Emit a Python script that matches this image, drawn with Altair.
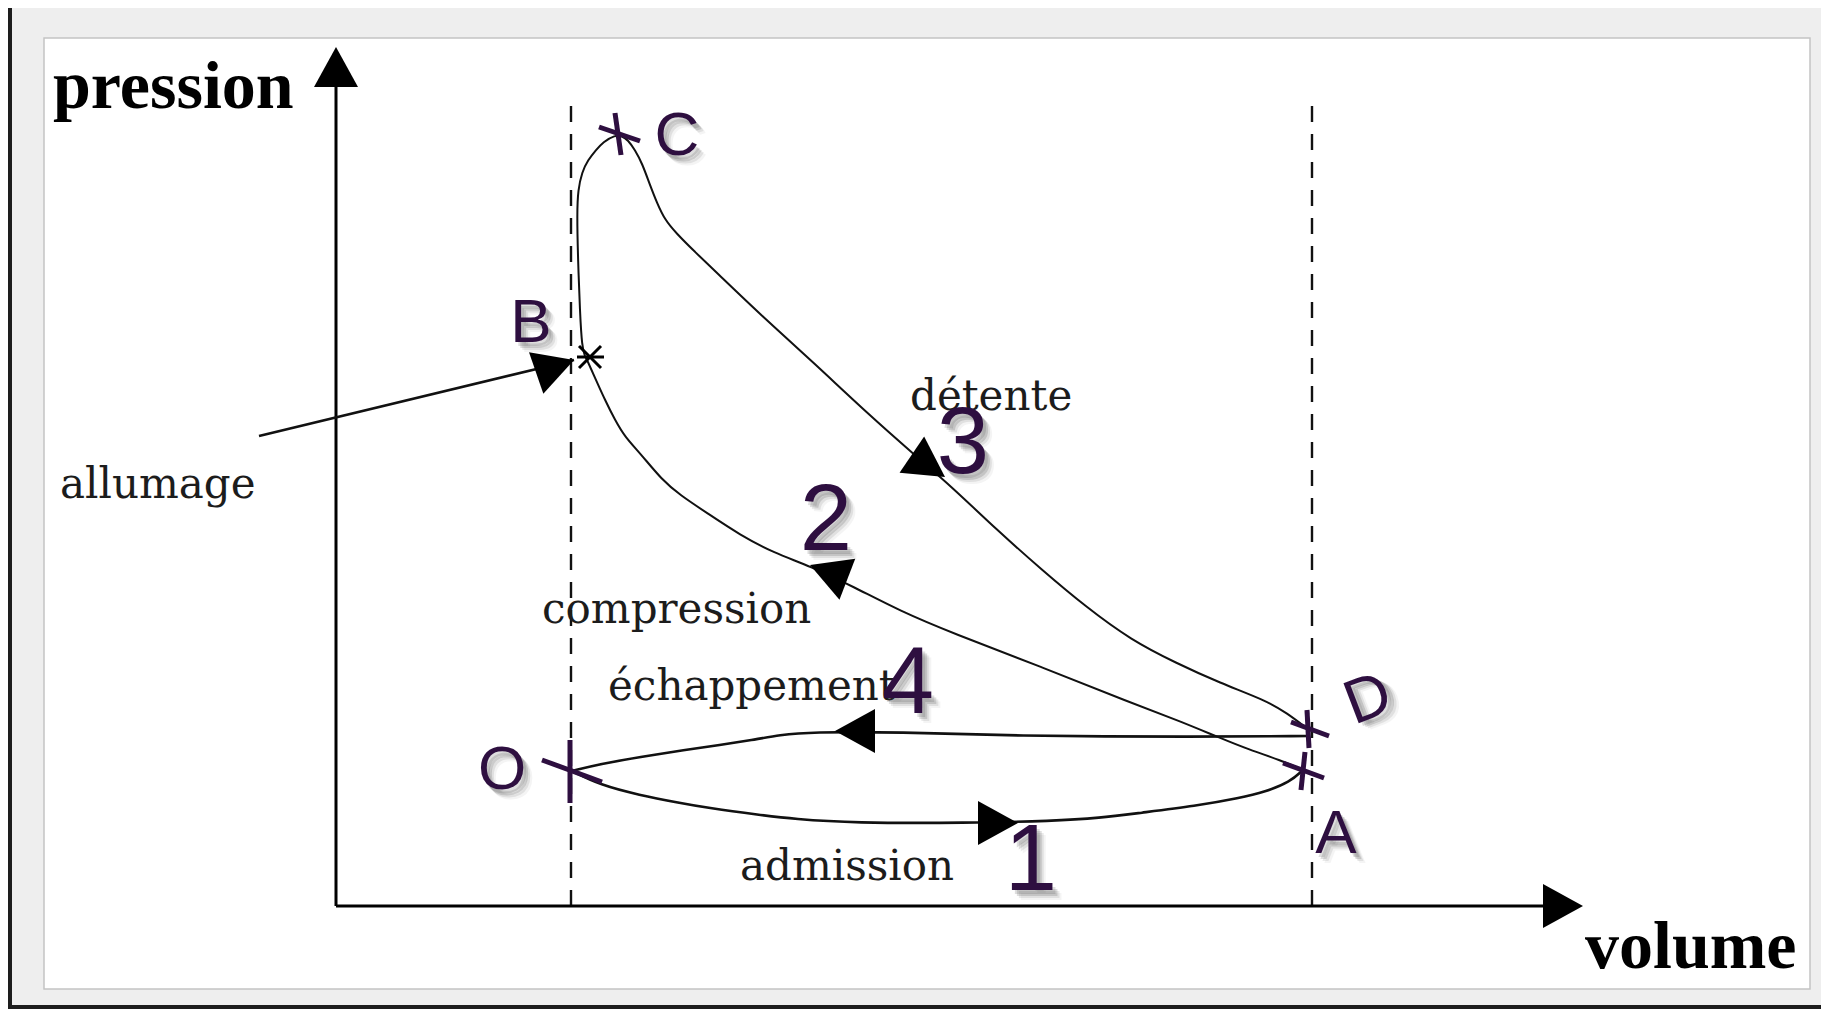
import altair as alt
import pandas as pd

# ---------------- data : (volume, pression) in diagram units, origin at the axes' corner -------------
admission_v = [236, 264, 303, 344, 372, 424, 458, 516, 631, 717, 764, 803, 860, 904, 929, 954, 967]
admission_p = [135, 121, 111, 103, 98, 91, 87, 83, 83, 85, 88, 93, 100, 108, 114, 124, 136]

compression_v = [967, 944, 914, 884, 844, 795, 706, 616, 564, 518, 474, 438, 404, 371, 344, 326, 304, 289, 279, 269, 260, 252, 249]
compression_p = [136, 146, 156, 168, 185, 203, 239, 273, 295, 319, 340, 353, 371, 393, 411, 426, 453, 469, 486, 506, 526, 544, 550]

combustion_v = [249, 246, 244, 242, 241, 242, 246, 252, 260, 267, 279]
combustion_p = [550, 559, 593, 646, 693, 716, 734, 746, 756, 764, 771]

detente_v = [286, 292, 299, 306, 314, 321, 329, 340, 359, 378, 428, 478, 531, 581, 616, 661, 706, 750, 795, 840, 884, 929, 951, 973]
detente_p = [770, 766, 756, 743, 721, 703, 686, 673, 654, 636, 588, 543, 493, 449, 419, 376, 336, 299, 266, 243, 223, 206, 193, 176]

echappement_v = [973, 864, 674, 564, 474, 444, 416, 384, 349, 304, 264, 236]
echappement_p = [170, 169, 170, 174, 174, 171, 166, 161, 156, 149, 142, 135]

allumage_v = [-77, 238]
allumage_p = [470, 546]

# volume limits (dashed) and axes
dash_v = [235, 976]
dash_top = 803
axis_v_end = 1230
axis_p_end = 845

# arrow heads : tip position and direction (deg, clockwise from +volume)
arrow_v = [0, 1247, 499, 682, 609, 474, 238]
arrow_p = [859, 0, 175, 83, 429, 341, 546]
arrow_dir = [270, 0, 180, 0, 34, 201, 341]

# purple crosses at O, A, C, D (two strokes each)
cross_v = [263, 279, 955, 971, 947, 969, 206, 234]
cross_p = [779, 793, 184, 196, 143, 154, 146, 166]
cross_v2 = [304, 285, 993, 973, 988, 965, 266, 234]
cross_p2 = [765, 751, 170, 158, 128, 116, 124, 103]

# small black star at B
star_v = [243, 265, 241]
star_p = [560, 560, 549]
star_v2 = [265, 243, 268]
star_p2 = [538, 538, 549]

point_labels = ["C", "B", "D", "O", "A"]
point_v = [341, 195, 1039, 166, 1000]
point_p = [751, 564, 189, 117, 53]
point_rot = [0, 0, 339, 0, 0]

stroke_labels = ["1", "2", "3", "4"]
stroke_v = [695, 490, 627, 572]
stroke_p = [16, 356, 433, 193]

phase_labels = ["allumage", "détente", "compression", "échappement", "admission"]
phase_v = [-276, 574, 206, 272, 404]
phase_p = [408, 496, 283, 206, 26]

title_labels = ["pression", "volume"]
title_v = [-283, 1249]
title_p = [798, -62]

# ---------------- chart ----------------
PURPLE = "#2e0f40"
INK = "#111111"
TXT = "#1c1c1c"
ARROW = "M0,0L-2,-1.1L-2,1.1Z"

W, H = 1766, 951
xs = alt.Scale(domain=[-292, 1474], nice=False, zero=False)
ys = alt.Scale(domain=[-83, 868], nice=False, zero=False)


def X(f="v"):
    return alt.X(f"{f}:Q", scale=xs, axis=None)


def Y(f="p"):
    return alt.Y(f"{f}:Q", scale=ys, axis=None)


def seg_rows(name, vs, ps):
    return [{"seg": name, "i": i, "v": v, "p": p} for i, (v, p) in enumerate(zip(vs, ps))]


thin_df = pd.DataFrame(
    seg_rows("compression", compression_v, compression_p)
    + seg_rows("BCD", combustion_v + detente_v, combustion_p + detente_p)
)
thick_df = pd.DataFrame(
    seg_rows("admission", admission_v, admission_p)
    + seg_rows("echappement", echappement_v, echappement_p)
)
allum_df = pd.DataFrame(seg_rows("allumage", allumage_v, allumage_p))

one = pd.DataFrame({"k": [0]})

frame = alt.Chart(one).mark_rect(color="#eeeeee").encode(
    x=alt.value(-32), x2=alt.value(1777), y=alt.value(-30), y2=alt.value(967)
)
panel = alt.Chart(one).mark_rect(fill="white", stroke="#c4c4c4", strokeWidth=1.5).encode(
    x=alt.value(0), x2=alt.value(W), y=alt.value(0), y2=alt.value(H)
)

dash_df = pd.DataFrame({"v": dash_v, "p0": [0, 0], "p1": [dash_top, dash_top]})
dashed = alt.Chart(dash_df).mark_rule(strokeDash=[16, 12], strokeWidth=2.4, color=INK).encode(
    x=X(), y=Y("p0"), y2=alt.Y2("p1")
)

axes_df = pd.DataFrame({"v": [0, 0], "p": [0, 0], "v2": [0, axis_v_end], "p2": [axis_p_end, 0]})
axes = alt.Chart(axes_df).mark_rule(strokeWidth=3, color="#000").encode(
    x=X(), y=Y(), x2=alt.X2("v2"), y2=alt.Y2("p2")
)

thin = alt.Chart(thin_df).mark_line(interpolate="basis", color=INK, strokeWidth=2).encode(
    x=X(), y=Y(), detail="seg:N", order="i:Q"
)
thick = alt.Chart(thick_df).mark_line(interpolate="basis", color=INK, strokeWidth=2.6).encode(
    x=X(), y=Y(), detail="seg:N", order="i:Q"
)
allum = alt.Chart(allum_df).mark_line(color=INK, strokeWidth=2.6).encode(
    x=X(), y=Y(), order="i:Q"
)

arrow_df = pd.DataFrame({"v": arrow_v, "p": arrow_p, "ang": arrow_dir})
arrows = alt.Chart(arrow_df).mark_point(
    shape=ARROW, filled=True, size=1600, color="#000", opacity=1, strokeWidth=0
).encode(x=X(), y=Y(), angle=alt.Angle("ang:Q", scale=None))

cross_df = pd.DataFrame({"v": cross_v, "p": cross_p, "v2": cross_v2, "p2": cross_p2})
crosses = alt.Chart(cross_df).mark_rule(color=PURPLE, strokeWidth=5).encode(
    x=X(), y=Y(), x2=alt.X2("v2"), y2=alt.Y2("p2")
)

star_df = pd.DataFrame({"v": star_v, "p": star_p, "v2": star_v2, "p2": star_p2})
star = alt.Chart(star_df).mark_rule(color="#000", strokeWidth=3).encode(
    x=X(), y=Y(), x2=alt.X2("v2"), y2=alt.Y2("p2")
)

phase_df = pd.DataFrame({"t": phase_labels, "v": phase_v, "p": phase_p})
phases = alt.Chart(phase_df).mark_text(
    font="DejaVu Serif", fontSize=42, color=TXT, align="left", baseline="alphabetic"
).encode(x=X(), y=Y(), text="t:N")

title_df = pd.DataFrame({"t": title_labels, "v": title_v, "p": title_p})
titles = alt.Chart(title_df).mark_text(
    font="Liberation Serif", fontSize=68, fontWeight="bold", color="#000", align="left", baseline="alphabetic"
).encode(x=X(), y=Y(), text="t:N")

pt_df = pd.DataFrame({"t": point_labels, "v": point_v, "p": point_p, "rot": point_rot})
st_df = pd.DataFrame({"t": stroke_labels, "v": stroke_v, "p": stroke_p, "rot": [0] * len(stroke_labels)})

shadow_layers = []
label_layers = []
for df, fs in [(pt_df, 62), (st_df, 94)]:
    for dx, dy, op in [(3, 4, 0.16), (5, 6, 0.16), (7, 8, 0.10), (9, 10, 0.05)]:
        shadow_layers.append(
            alt.Chart(df).mark_text(
                font="Liberation Sans", fontSize=fs, color="#3a3a3a", opacity=op,
                dx=dx, dy=dy, align="center", baseline="alphabetic"
            ).encode(x=X(), y=Y(), text="t:N", angle=alt.Angle("rot:Q", scale=None))
        )
    label_layers.append(
        alt.Chart(df).mark_text(
            font="Liberation Sans", fontSize=fs, color=PURPLE, align="center", baseline="alphabetic"
        ).encode(x=X(), y=Y(), text="t:N", angle=alt.Angle("rot:Q", scale=None))
    )

chart = alt.layer(
    frame, panel, dashed, axes, thin, thick, allum, arrows, star, phases, titles,
    *shadow_layers, crosses, *label_layers
).properties(
    width=W, height=H,
    padding={"left": 36, "top": 30, "right": 11, "bottom": 20},
    background="#1d1d1d",
    autosize=alt.AutoSizeParams(type="none"),
).configure_view(strokeWidth=0)

chart.save("out.html", embed_options={"renderer": "svg", "actions": False})
